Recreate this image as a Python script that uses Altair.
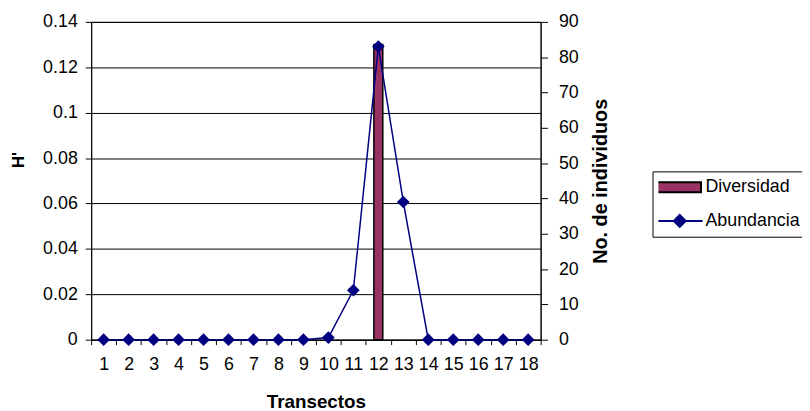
import altair as alt
import pandas as pd

# ---- data ----
transectos = list(range(1, 19))
diversidad = [0, 0, 0, 0, 0, 0, 0, 0, 0, 0, 0, 0.13, 0, 0, 0, 0, 0, 0]
abundancia = [0, 0, 0, 0, 0, 0, 0, 0, 0, 0.6, 14, 83, 39, 0, 0, 0, 0, 0]
series = ["Diversidad", "Abundancia"]
rellenos = ["#993366", "#000080"]
bordes = ["#000000", "#000080"]
h_ticks = [0, 0.02, 0.04, 0.06, 0.08, 0.1, 0.12, 0.14]
n_ticks = [0, 10, 20, 30, 40, 50, 60, 70, 80, 90]

df = pd.DataFrame({"Transecto": transectos, "H": diversidad, "N": abundancia})

FONT = "Liberation Sans"

sym_shape = ("datum.value === 'Diversidad' ? 'M-0.92,-0.2H0.92V0.2H-0.92Z' : "
             "'M-0.98,0H0.98M-0.18,0L0.06,-0.24L0.3,0L0.06,0.24Z'")


def make_legend():
    return alt.Legend(
        orient="none", legendX=567, legendY=151, title=None, direction="vertical",
        padding=6, strokeColor="black", fillColor="white",
        labelFont=FONT, labelFontSize=18, labelColor="black", labelLimit=400,
        symbolSize=2500, clipHeight=20, rowPadding=14,
        symbolOffset=-6, labelOffset=1.5, symbolStrokeWidth=2,
        symbolType=alt.ExprRef(expr=sym_shape),
        symbolOpacity=1,
    )


fill_scale = alt.Scale(domain=series, range=rellenos)
stroke_scale = alt.Scale(domain=series, range=bordes)

x = alt.X(
    "Transecto:O",
    scale=alt.Scale(paddingInner=0, paddingOuter=0),
    axis=alt.Axis(title="Transectos", labelAngle=0, tickBand="extent", tickSize=5,
                  labelPadding=11, titlePadding=20, titleFontSize=19, grid=False),
)

base = alt.Chart(df)

bars = base.transform_filter("datum.H > 0").transform_calculate(
    serie="'Diversidad'"
).mark_bar(size=9, strokeWidth=1.5).encode(
    x=x,
    y=alt.Y("H:Q", scale=alt.Scale(domain=[0, 0.14], nice=False),
            axis=alt.Axis(title="H'", values=h_ticks, format="~g", grid=True,
                          gridColor="#000000", gridWidth=1, tickSize=6,
                          labelPadding=8, titlePadding=15, titleFontSize=17,
                          titleY=139, orient="left")),
    fill=alt.Fill("serie:N", scale=fill_scale, legend=make_legend()),
    stroke=alt.Stroke("serie:N", scale=stroke_scale, legend=make_legend()),
)

line = base.transform_calculate(serie="'Abundancia'").mark_line(
    strokeWidth=1.5,
    point=alt.OverlayMarkDef(shape="diamond", size=100, filled=True,
                             fill="#000080", opacity=1),
).encode(
    x=x,
    y=alt.Y("N:Q", scale=alt.Scale(domain=[0, 90], nice=False),
            axis=alt.Axis(title="No. de individuos", values=n_ticks, orient="right",
                          grid=False, tickSize=7, labelPadding=11, titlePadding=13,
                          titleFontSize=20, titleAngle=270, titleBaseline="top")),
    stroke=alt.Stroke("serie:N", scale=stroke_scale, legend=make_legend()),
)

chart = alt.layer(bars, line).resolve_scale(y="independent").properties(
    width=454, height=321,
    autosize=alt.AutoSizeParams(type="none"),
    padding={"left": 84, "top": 12, "right": 264, "bottom": 70},
    background="white",
).configure_axis(
    labelFont=FONT, labelFontSize=18, labelColor="black",
    titleFont=FONT, titleFontWeight="bold", titleColor="black",
    domainColor="black", tickColor="black", domainWidth=1, tickWidth=1,
).configure_view(stroke="black", strokeWidth=1)

chart.save("out.html", embed_options={"renderer": "svg", "actions": False})
